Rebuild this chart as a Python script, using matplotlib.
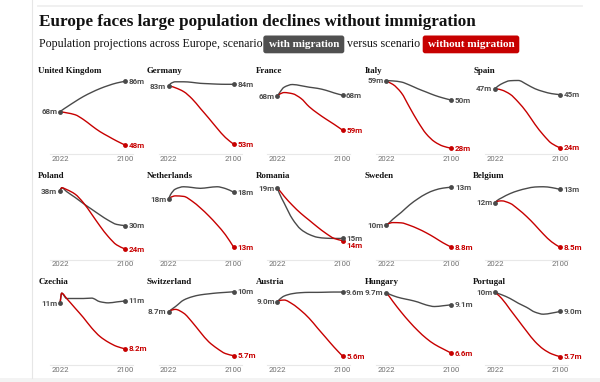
import matplotlib
matplotlib.use("Agg")
import numpy as np
import matplotlib.pyplot as plt
import matplotlib.transforms as mtransforms
from matplotlib.patches import FancyBboxPatch, Rectangle, PathPatch
from matplotlib.path import Path
from matplotlib.lines import Line2D

# ---------------- data ----------------
TITLE = "Europe faces large population declines without immigration"
SUB_1 = "Population projections across Europe, scenario"
SUB_WITH = "with migration"
SUB_MID = "versus scenario"
SUB_WITHOUT = "without migration"

YEARS = [2022, 2024, 2030, 2040, 2050, 2060, 2070, 2080, 2090, 2100]
TICK_YEARS = [2022, 2100]
TICK_LABELS = ["2022", "2100"]

COUNTRIES = ["United Kingdom", "Germany", "France", "Italy", "Spain",
             "Poland", "Netherlands", "Romania", "Sweden", "Belgium",
             "Czechia", "Switzerland", "Austria", "Hungary", "Portugal"]

uk_with = [68.0, 68.8, 70.8, 74.0, 77.0, 79.5, 81.7, 83.5, 85.0, 86.0]
uk_without = [68.0, 67.9, 67.4, 66.3, 63.5, 59.8, 56.3, 53.5, 50.8, 48.4]
de_with = [83.1, 84.3, 85.3, 85.3, 85.0, 84.5, 84.3, 84.1, 84.0, 84.0]
de_without = [83.1, 83.0, 82.2, 80.2, 76.5, 71.5, 66.5, 61.3, 56.5, 53.0]
fr_with = [68.0, 68.7, 70.3, 71.0, 70.7, 70.3, 70.0, 69.5, 68.8, 68.2]
fr_without = [68.0, 68.4, 68.9, 68.6, 67.4, 65.2, 63.5, 62.0, 60.6, 59.1]
it_with = [59.0, 59.0, 58.9, 58.4, 57.0, 55.3, 53.8, 52.3, 51.1, 50.1]
it_without = [59.0, 58.5, 57.3, 53.5, 46.8, 40.2, 34.6, 31.0, 29.0, 28.0]
es_with = [47.0, 47.7, 49.0, 50.2, 50.3, 48.8, 47.1, 46.0, 45.2, 44.8]
es_without = [47.0, 47.0, 46.6, 45.0, 41.9, 38.0, 33.3, 29.2, 25.9, 24.2]
pl_with = [38.15, 38.95, 38.0, 36.6, 35.1, 33.7, 32.3, 31.0, 30.0, 29.7]
pl_without = [38.15, 38.95, 38.5, 37.4, 35.3, 32.5, 29.6, 27.0, 25.0, 24.0]
nl_with = [17.8, 18.2, 18.75, 18.97, 18.9, 18.82, 18.9, 18.97, 18.8, 18.45]
nl_without = [17.8, 17.95, 18.1, 18.05, 17.6, 16.95, 16.2, 15.35, 14.4, 13.2]
ro_with = [19.0, 18.6, 17.7, 16.3, 15.4, 14.95, 14.7, 14.62, 14.6, 14.6]
ro_without = [19.0, 18.85, 18.3, 17.5, 16.8, 16.2, 15.6, 15.05, 14.6, 14.4]
se_with = [10.4, 10.5, 10.85, 11.35, 11.9, 12.35, 12.72, 12.98, 13.13, 13.2]
se_without = [10.4, 10.5, 10.6, 10.58, 10.4, 10.15, 9.85, 9.5, 9.12, 8.8]
be_with = [12.2, 12.35, 12.6, 12.95, 13.2, 13.38, 13.5, 13.52, 13.45, 13.3]
be_without = [12.2, 12.3, 12.35, 12.15, 11.65, 11.05, 10.35, 9.6, 8.95, 8.5]
cz_with = [10.6, 11.13, 10.85, 10.85, 10.85, 10.87, 10.68, 10.62, 10.67, 10.72]
cz_without = [10.6, 11.13, 10.85, 10.35, 9.85, 9.3, 8.85, 8.55, 8.33, 8.2]
ch_with = [8.7, 8.8, 9.05, 9.5, 9.72, 9.85, 9.92, 9.98, 10.02, 10.06]
ch_without = [8.7, 8.78, 8.86, 8.6, 8.0, 7.3, 6.65, 6.2, 5.85, 5.7]
at_with = [9.0, 9.12, 9.35, 9.5, 9.56, 9.58, 9.58, 9.59, 9.6, 9.6]
at_without = [9.0, 9.06, 9.1, 8.85, 8.45, 7.96, 7.35, 6.75, 6.15, 5.6]
hu_with = [9.7, 9.66, 9.55, 9.42, 9.33, 9.22, 9.07, 8.99, 9.03, 9.08]
hu_without = [9.7, 9.6, 9.25, 8.7, 8.2, 7.75, 7.36, 7.05, 6.82, 6.6]
pt_with = [10.4, 10.35, 10.22, 9.95, 9.6, 9.3, 8.95, 8.8, 8.88, 9.0]
pt_without = [10.4, 10.3, 9.95, 9.15, 8.35, 7.55, 6.8, 6.25, 5.9, 5.7]

WITH_SERIES = [uk_with, de_with, fr_with, it_with, es_with,
               pl_with, nl_with, ro_with, se_with, be_with,
               cz_with, ch_with, at_with, hu_with, pt_with]
WITHOUT_SERIES = [uk_without, de_without, fr_without, it_without, es_without,
                  pl_without, nl_without, ro_without, se_without, be_without,
                  cz_without, ch_without, at_without, hu_without, pt_without]

# per-panel vertical scale (layout)
YLIMS = [(43.11, 87.95), (47.98, 87.26), (52.86, 72.70), (25.38, 60.24), (21.81, 51.26),
         (21.44, 39.98), (12.04, 19.28), (12.75, 19.42), (7.89, 13.47), (7.49, 13.79),
         (7.35, 11.35), (5.07, 10.25), (5.04, 9.79), (5.99, 9.89), (5.09, 10.64)]

# ---------------- style ----------------
W, H = 600, 382
GRAY = "#4a4a4a"
RED = "#c70000"
LABEL_GRAY = "#4d4d4d"
TICK_GRAY = "#707070"
SERIF = ["Liberation Serif", "DejaVu Serif"]
SANS = ["Roboto", "DejaVu Sans"]
PX = 0.72  # points per pixel at dpi 100

fig = plt.figure(figsize=(W / 100, H / 100), dpi=100)
fig.patch.set_facecolor("white")


def fx(x):
    return x / W


def fy(y):
    return 1 - y / H


renderer = fig.canvas.get_renderer()


def fit(t, target):
    bb = t.get_window_extent(renderer)
    t.set_fontsize(t.get_fontsize() * target / bb.width)
    return t


def monotone_path(xs, ys):
    """Bezier path through the points, like d3.curveMonotoneX."""
    x = np.asarray(xs, float)
    y = np.asarray(ys, float)
    h = np.diff(x)
    d = np.diff(y) / h
    m = np.zeros_like(y)
    m[0], m[-1] = d[0], d[-1]
    for k in range(1, len(y) - 1):
        if d[k - 1] * d[k] <= 0:
            m[k] = 0.0
        else:
            w1 = 2 * h[k] + h[k - 1]
            w2 = h[k] + 2 * h[k - 1]
            m[k] = (w1 + w2) / (w1 / d[k - 1] + w2 / d[k])
    verts = [(x[0], y[0])]
    codes = [Path.MOVETO]
    for k in range(len(x) - 1):
        dx = h[k] / 3
        verts += [(x[k] + dx, y[k] + m[k] * dx),
                  (x[k + 1] - dx, y[k + 1] - m[k + 1] * dx),
                  (x[k + 1], y[k + 1])]
        codes += [Path.CURVE4] * 3
    return Path(verts, codes)


# page decorations
fig.add_artist(Line2D([fx(31.7), fx(31.7)], [fy(0), fy(378)], color="#e6e6e6", lw=0.8))
fig.add_artist(Line2D([fx(38.3), fx(581.7)], [fy(5.7), fy(5.7)], color="#efefef", lw=1.3))
fig.add_artist(Rectangle((0, 0), 1, 4 / H, transform=fig.transFigure,
                         facecolor="#f3f3f3", edgecolor="none"))

# title + subtitle
t = fig.text(fx(39), fy(26), TITLE, family=SERIF, weight="bold", fontsize=12,
             color="#121212", va="baseline", ha="left")
fit(t, 434)
s1 = fig.text(fx(39), fy(46.7), SUB_1, family=SERIF, fontsize=9, color="#121212",
              va="baseline", ha="left")
fit(s1, 222.7)
sub_fs = s1.get_fontsize()
s2 = fig.text(fx(347.3), fy(46.7), SUB_MID, family=SERIF, fontsize=sub_fs,
              color="#121212", va="baseline", ha="left")

ident = mtransforms.IdentityTransform()
for (x0, x1, col, txt, tw) in [(263.3, 344.3, "#505050", SUB_WITH, 71),
                               (422.7, 519.3, RED, SUB_WITHOUT, 87)]:
    box = FancyBboxPatch((x0, H - 53.3), x1 - x0, 17.8,
                         boxstyle="round,pad=0,rounding_size=2.5",
                         transform=ident, facecolor=col, edgecolor="none")
    fig.add_artist(box)
    bt = fig.text(fx((x0 + x1) / 2), fy(46.7), txt, family=SERIF, weight="bold",
                  fontsize=sub_fs, color="white", va="baseline", ha="center")
    fit(bt, tw)


def fmt(v):
    if v >= 10:
        return f"{int(v + 0.5)}m"
    return f"{v:.1f}m"


# country title size fitted once
probe = fig.text(0, 0, COUNTRIES[0], family=SERIF, weight="bold", fontsize=7)
fit(probe, 64)
title_fs = probe.get_fontsize()
probe.remove()

LABEL_FS = 5.8
COL_STEP = 108.75
ROW_STEP = 105.5

for i, name in enumerate(COUNTRIES):
    r, c = divmod(i, 5)
    left = 50 + COL_STEP * c
    top = 78 + ROW_STEP * r
    bottom = 154 + ROW_STEP * r
    ax = fig.add_axes([fx(left), fy(bottom), 83 / W, (bottom - top) / H])
    ax.set_xlim(2010, 2109.6)
    lo, hi = YLIMS[i]
    ax.set_ylim(lo, hi)
    for sp in ["top", "left", "right"]:
        ax.spines[sp].set_visible(False)
    ax.spines["bottom"].set_color("#e8e8e8")
    ax.spines["bottom"].set_linewidth(0.8)
    ax.set_yticks([])
    ax.set_xticks(TICK_YEARS)
    ax.set_xticklabels(TICK_LABELS, family=SANS, fontsize=5.6, color=TICK_GRAY)
    ax.tick_params(axis="x", length=0, pad=1.3)
    ax.patch.set_alpha(0)

    w = WITH_SERIES[i]
    wo = WITHOUT_SERIES[i]
    ax.add_patch(PathPatch(monotone_path(YEARS, w), facecolor="none", edgecolor=GRAY,
                           lw=1.0, capstyle="round", joinstyle="round",
                           clip_on=False, zorder=3))
    ax.add_patch(PathPatch(monotone_path(YEARS, wo), facecolor="none", edgecolor=RED,
                           lw=1.0, capstyle="round", joinstyle="round",
                           clip_on=False, zorder=4))
    ax.plot([YEARS[-1]], [wo[-1]], "o", color=RED, ms=3.5, mew=0, clip_on=False, zorder=5)
    ax.plot([YEARS[-1]], [w[-1]], "o", color=GRAY, ms=3.5, mew=0, clip_on=False, zorder=5)
    ax.plot([YEARS[0]], [w[0]], "o", color=GRAY, ms=3.5, mew=0, clip_on=False, zorder=6)

    # label vertical positions (pixels), push apart if overlapping
    hpx = bottom - top
    p_w = (w[-1] - lo) / (hi - lo) * hpx
    p_wo = (wo[-1] - lo) / (hi - lo) * hpx
    dy_w, dy_wo = 0.0, 0.0
    gap = 7.5
    if abs(p_w - p_wo) < gap:
        if p_w >= p_wo:
            dy_wo = -(gap - (p_w - p_wo))
        else:
            dy_w = -(gap - (p_wo - p_w))

    base = -2.5  # baseline offset so digits are centred on the dot
    ax.annotate(fmt(w[0]), xy=(YEARS[0], w[0]), xytext=(-2.6 * PX, base * PX),
                textcoords="offset points", ha="right", va="baseline",
                family=SANS, weight="bold", fontsize=LABEL_FS, color=LABEL_GRAY,
                annotation_clip=False)
    ax.annotate(fmt(w[-1]), xy=(YEARS[-1], w[-1]), xytext=(3.6 * PX, (base + dy_w) * PX),
                textcoords="offset points", ha="left", va="baseline",
                family=SANS, weight="bold", fontsize=LABEL_FS, color=LABEL_GRAY,
                annotation_clip=False)
    ax.annotate(fmt(wo[-1]), xy=(YEARS[-1], wo[-1]), xytext=(3.6 * PX, (base + dy_wo) * PX),
                textcoords="offset points", ha="left", va="baseline",
                family=SANS, weight="bold", fontsize=LABEL_FS, color=RED,
                annotation_clip=False)

    fig.text(fx(38.3 + COL_STEP * c), fy(72.7 + ROW_STEP * r), name, family=SERIF,
             weight="bold", fontsize=title_fs, color="#121212", va="baseline", ha="left")

fig.savefig("out.png", dpi=100, facecolor="white")
